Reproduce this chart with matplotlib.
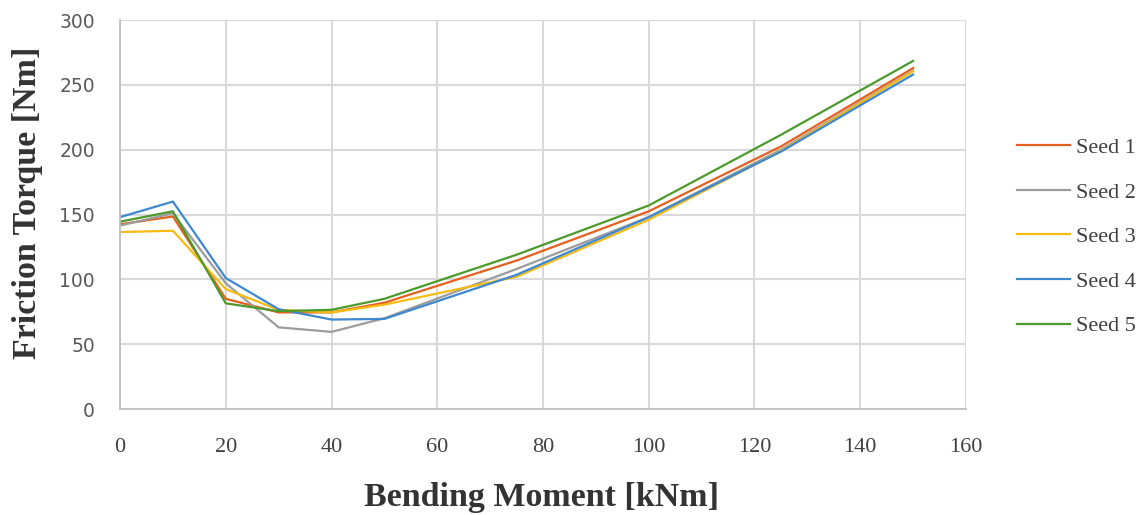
"""
Friction torque vs bending moment for five seeds.
"""

import matplotlib.pyplot as plt

bending_moment = [0, 10, 20, 30, 40, 50, 75, 100, 125, 150]

seed_1 = [142.5, 148.5, 85, 74.5, 74.5, 82, 114.5, 152.5, 202.5, 263]
seed_2 = [141.5, 151, 97, 63, 59.5, 70, 108, 148, 200, 261]
seed_3 = [136.5, 137.5, 92.5, 76.5, 74.5, 80.5, 102, 146, 199, 260.5]
seed_4 = [148, 160, 101, 77, 69, 69.5, 103.5, 148, 198.5, 258]
seed_5 = [144.5, 152.5, 81.5, 75.5, 76.5, 85, 119, 157, 211.5, 268.5]

series = [seed_1, seed_2, seed_3, seed_4, seed_5]
labels = ["Seed 1", "Seed 2", "Seed 3", "Seed 4", "Seed 5"]
colors = ["#E5601F", "#9C9C9C", "#F7BB12", "#3E88D0", "#4B9A2B"]

serif = "Liberation Serif"

fig = plt.figure(figsize=(11.41, 5.15), dpi=100)
ax = fig.add_axes([0.1052, 0.2058, 0.7414, 0.7552])

for vals, lab, col in zip(series, labels, colors):
    ax.plot(bending_moment, vals, color=col, linewidth=1.6, label=lab)

ax.set_xlim(0, 160)
ax.set_ylim(0, 300)
ax.set_xticks(range(0, 161, 20))
ax.set_yticks(range(0, 301, 50))
ax.grid(True, color="#D9D9D9", linewidth=1.5)
ax.set_axisbelow(True)
for side in ["top", "right"]:
    ax.spines[side].set_visible(False)
for side in ["left", "bottom"]:
    ax.spines[side].set_color("#BFBFBF")
    ax.spines[side].set_linewidth(1.3)

ax.tick_params(axis="y", length=0, labelsize=13.5, labelcolor="#595959", pad=18)
ax.tick_params(axis="x", length=0, labelsize=16, labelcolor="#404040", pad=21)
for t in ax.get_yticklabels():
    t.set_family("DejaVu Sans")
for t in ax.get_xticklabels():
    t.set_family(serif)

ax.set_xlabel("Bending Moment [kNm]", family=serif, fontsize=24.5,
              weight="bold", color="#333333")
ax.set_ylabel("Friction Torque [Nm]", family=serif, fontsize=24.5,
              weight="bold", color="#333333")
ax.xaxis.set_label_coords(0.498, -0.188)
ax.yaxis.set_label_coords(-0.091, 0.53)

leg = fig.legend(loc="center left", bbox_to_anchor=(0.891, 0.54), frameon=False,
                 prop={"family": serif, "size": 16}, borderpad=0, borderaxespad=0,
                 handlelength=2.4, labelspacing=1.08, handletextpad=0.25)
for t in leg.get_texts():
    t.set_color("#404040")

plt.savefig("out.png", dpi=100)
